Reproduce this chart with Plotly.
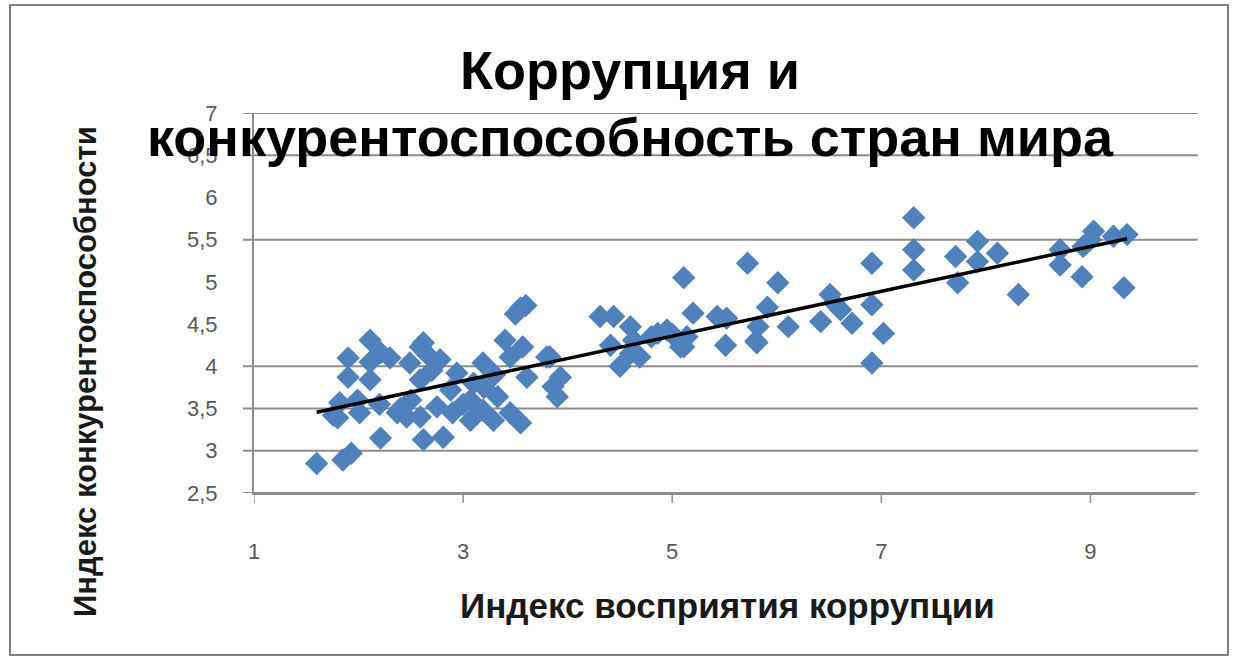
import numpy as np
import plotly.graph_objects as go

# Corruption perception index (x) and competitiveness index (y)
cpi = [1.6, 1.85, 1.93, 1.76, 1.82, 1.99, 1.80, 2.01, 1.90, 1.90, 2.11, 2.11, 2.21, 2.30, 2.11,
       2.21, 2.37, 2.20, 2.49, 2.59, 2.59, 2.62, 2.46, 2.62, 2.65, 2.78, 2.70, 2.88, 2.94, 3.07,
       3.19, 3.33, 3.19, 3.45, 3.55, 2.59, 2.75, 2.81, 3.29, 3.07, 2.90, 3.00, 3.10, 3.40, 3.57,
       3.45, 3.61, 3.83, 3.86, 3.55, 3.60, 3.50, 3.80, 3.93, 3.90, 3.30, 3.20, 2.40, 2.50,
       4.31, 4.44, 4.60, 4.41, 4.50, 4.69, 4.63, 4.86, 4.95, 5.08, 5.14, 5.11, 5.20, 5.00, 4.80,
       4.60, 5.11, 5.43, 5.52, 5.51, 5.72, 5.81, 5.82, 5.91, 6.01, 6.11, 6.42, 6.51, 6.61, 6.72,
       6.91, 6.91, 7.02, 6.91, 6.55, 5.80,
       7.31, 7.31, 7.31, 7.71, 7.73, 7.92, 7.92, 8.11, 8.31, 8.71, 8.71, 8.92, 8.93, 9.03, 9.22,
       9.35, 9.32, 9.00]
gci = [2.85, 2.89, 2.97, 3.42, 3.57, 3.60, 3.39, 3.45, 4.10, 3.87, 4.31, 4.05, 4.16, 4.10, 3.84,
       3.15, 3.45, 3.55, 4.04, 4.23, 3.84, 3.13, 3.40, 4.28, 4.15, 4.08, 3.95, 3.72, 3.92, 3.60,
       4.04, 3.64, 3.48, 3.45, 3.33, 3.40, 3.52, 3.16, 3.36, 3.36, 3.45, 3.55, 3.80, 4.31, 4.23,
       4.11, 3.87, 4.11, 3.76, 4.69, 4.72, 4.62, 4.11, 3.87, 3.64, 3.90, 3.75, 3.50, 3.60,
       4.59, 4.59, 4.47, 4.25, 4.00, 4.11, 4.31, 4.39, 4.43, 4.23, 4.35, 5.05, 4.63, 4.38, 4.35,
       4.15, 4.23, 4.59, 4.57, 4.25, 5.22, 4.28, 4.47, 4.70, 4.99, 4.47, 4.53, 4.85, 4.67, 4.51,
       5.22, 4.73, 4.39, 4.04, 4.75, 4.30,
       5.76, 5.38, 5.14, 5.30, 4.99, 5.48, 5.24, 5.34, 4.85, 5.38, 5.20, 5.06, 5.42, 5.60, 5.54,
       5.56, 4.93, 5.50]

x_ticks = [1, 3, 5, 7, 9]
y_ticks = [2.5, 3, 3.5, 4, 4.5, 5, 5.5, 6, 6.5, 7]
y_ticktext = ["2,5", "3", "3,5", "4", "4,5", "5", "5,5", "6", "6,5", "7"]
grid_levels = [2.5, 3, 3.5, 4, 5.5, 6.5, 7]

title_lines = ["Коррупция и", "конкурентоспособность стран мира"]
x_title = "Индекс восприятия коррупции"
y_title = "Индекс конкурентоспособности"

# linear trend
xa = np.array(cpi)
ya = np.array(gci)
k, b = np.polyfit(xa, ya, 1)
tx = np.array([xa.min(), xa.max()])
ty = k * tx + b

BLUE = "#4F81BD"
GRID = "#8c8c8c"
FONT = "Liberation Sans, Arial, sans-serif"

fig = go.Figure()
fig.add_trace(go.Scatter(x=cpi, y=gci, mode="markers",
                         marker=dict(symbol="diamond", size=18, color=BLUE, line=dict(width=0)),
                         showlegend=False))
fig.add_trace(go.Scatter(x=tx, y=ty, mode="lines", line=dict(color="black", width=3.5),
                         showlegend=False))

L, R, T, B = 254, 42, 113, 168
W, H = 1237, 661
pw, ph = W - L - R, H - T - B

def px(xp):
    return (xp - L) / pw

def py(yp):
    return (H - B - yp) / ph

shapes = []
for g in grid_levels:
    shapes.append(dict(type="line", xref="paper", yref="y", x0=px(243), x1=1.003, y0=g, y1=g,
                       line=dict(color=GRID, width=2), layer="below"))
for t in x_ticks:
    shapes.append(dict(type="line", xref="x", yref="paper", x0=t, x1=t, y0=0, y1=py(H - B + 10),
                       line=dict(color=GRID, width=1.5), layer="below"))
shapes.append(dict(type="rect", xref="paper", yref="paper", x0=px(10), x1=px(1228), y0=py(655), y1=py(5),
                   line=dict(color="#808080", width=2), fillcolor="rgba(0,0,0,0)", layer="below"))

annotations = [
    dict(text=f"<b>{title_lines[0]}</b>", xref="paper", yref="paper", x=px(630), y=py(70),
         showarrow=False, font=dict(family=FONT, size=54, color="black"), xanchor="center", yanchor="middle"),
    dict(text=f"<b>{title_lines[1]}</b>", xref="paper", yref="paper", x=px(630), y=py(137),
         showarrow=False, font=dict(family=FONT, size=54, color="black"), xanchor="center", yanchor="middle"),
    dict(text=f"<b>{x_title}</b>", xref="paper", yref="paper", x=px(727), y=py(605),
         showarrow=False, font=dict(family=FONT, size=35, color="#1a1a1a"), xanchor="center", yanchor="middle"),
    dict(text=f"<b>{y_title}</b>", xref="paper", yref="paper", x=px(85), y=py(372), textangle=-90,
         showarrow=False, font=dict(family=FONT, size=31, color="#1a1a1a"), xanchor="center", yanchor="middle"),
]

fig.update_layout(
    width=W, height=H,
    margin=dict(l=L, r=R, t=T, b=B, autoexpand=False),
    paper_bgcolor="white", plot_bgcolor="white",
    shapes=shapes, annotations=annotations,
    xaxis=dict(range=[1, 10], tickvals=x_ticks, ticktext=[str(t) for t in x_ticks],
               showgrid=False, zeroline=False, showline=True, linecolor=GRID, linewidth=2,
               ticks="", ticklabelstandoff=38,
               tickfont=dict(family=FONT, size=22, color="#595959")),
    yaxis=dict(range=[2.5, 7], tickvals=y_ticks, ticktext=y_ticktext,
               showgrid=False, zeroline=False, showline=True, linecolor=GRID, linewidth=2,
               ticks="", ticklabelstandoff=30,
               tickfont=dict(family=FONT, size=22, color="#595959")),
)

fig.write_html("out.html", config={"displayModeBar": False},
               post_script="document.body.style.margin='0';document.body.style.overflow='hidden';")
